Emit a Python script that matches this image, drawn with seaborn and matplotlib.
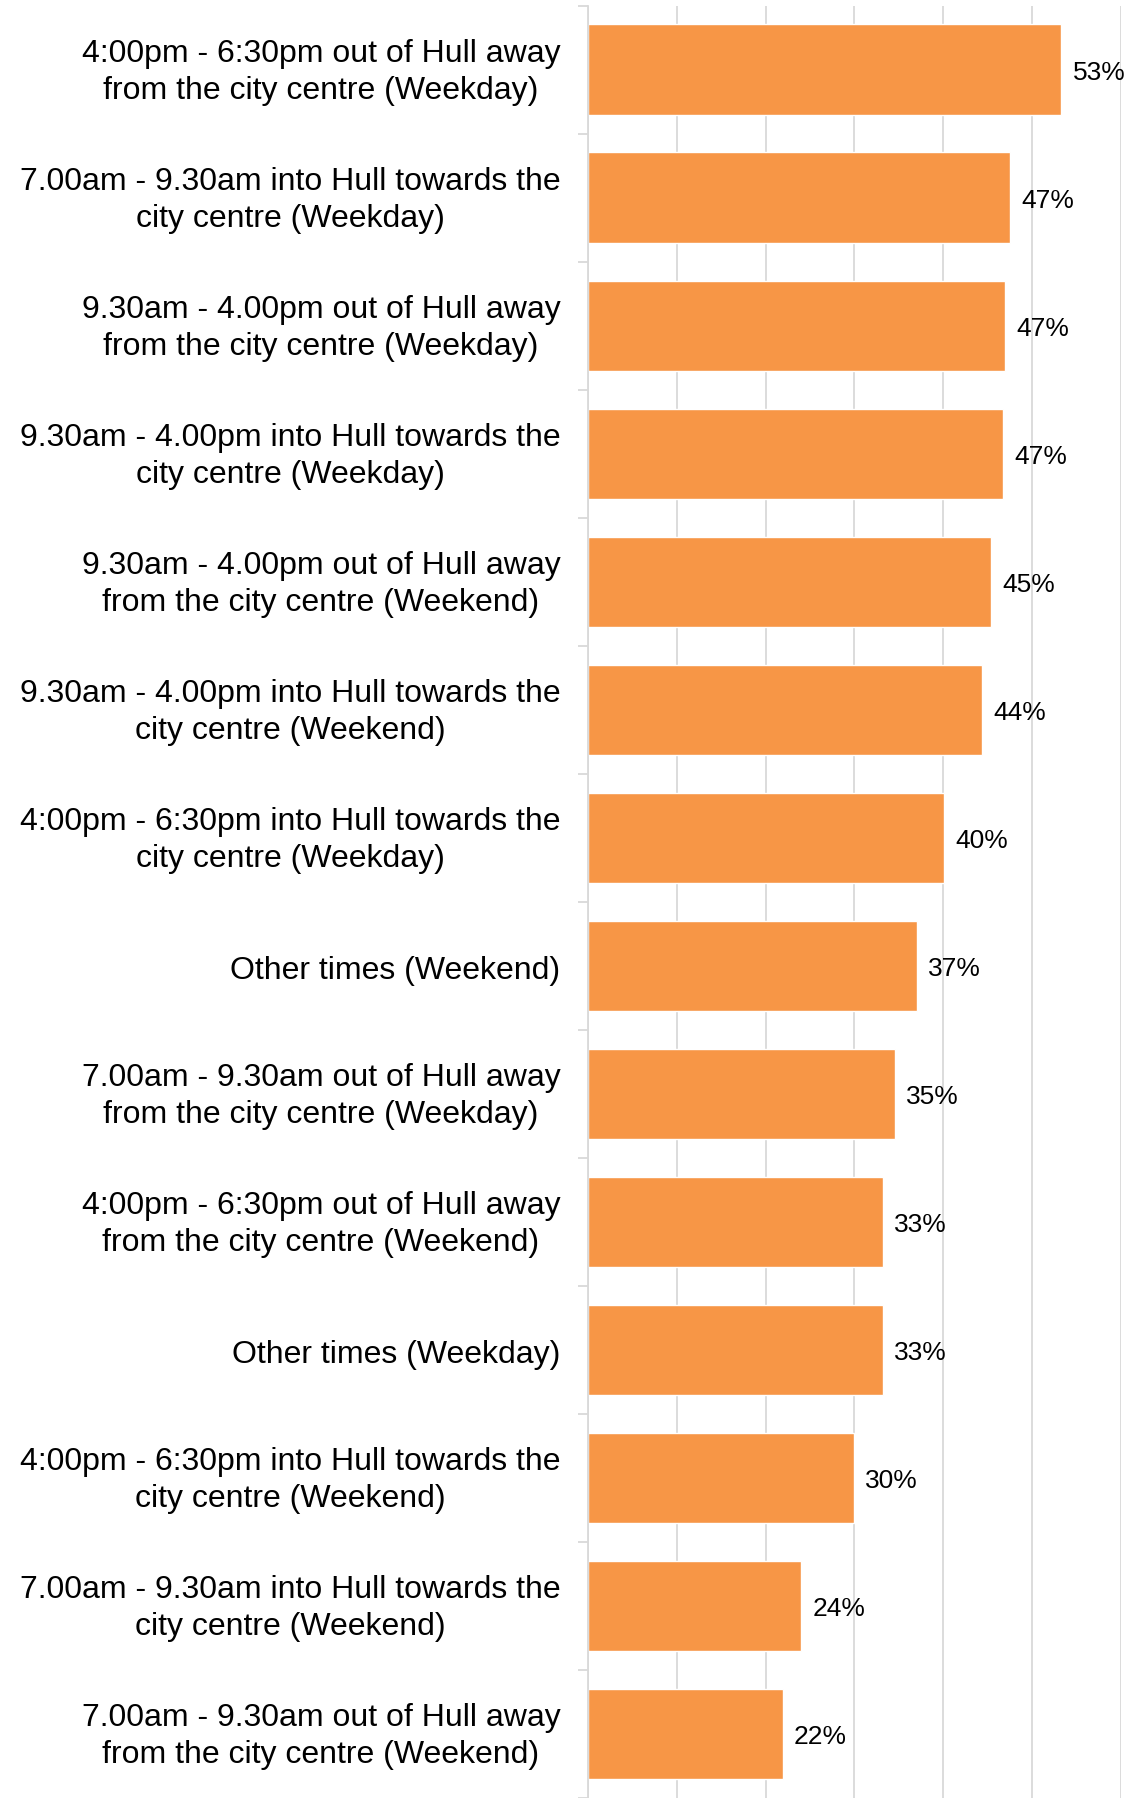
import matplotlib.pyplot as plt
import matplotlib.transforms as mtransforms
import pandas as pd
import seaborn as sns
import numpy as np
from matplotlib.ticker import FixedLocator

# data (share of respondents, %)
categories = [
    '4:00pm - 6:30pm out of Hull away\nfrom the city centre (Weekday)',
    '7.00am - 9.30am into Hull towards the\ncity centre (Weekday)',
    '9.30am - 4.00pm out of Hull away\nfrom the city centre (Weekday)',
    '9.30am - 4.00pm into Hull towards the\ncity centre (Weekday)',
    '9.30am - 4.00pm out of Hull away\nfrom the city centre (Weekend)',
    '9.30am - 4.00pm into Hull towards the\ncity centre (Weekend)',
    '4:00pm - 6:30pm into Hull towards the\ncity centre (Weekday)',
    'Other times (Weekend)',
    '7.00am - 9.30am out of Hull away\nfrom the city centre (Weekday)',
    '4:00pm - 6:30pm out of Hull away\nfrom the city centre (Weekend)',
    'Other times (Weekday)',
    '4:00pm - 6:30pm into Hull towards the\ncity centre (Weekend)',
    '7.00am - 9.30am into Hull towards the\ncity centre (Weekend)',
    '7.00am - 9.30am out of Hull away\nfrom the city centre (Weekend)',
]
values = [53.3, 47.5, 47.0, 46.7, 45.4, 44.4, 40.1, 37.0, 34.6, 33.2, 33.2, 29.9, 24.0, 21.9]
labels = ['53%', '47%', '47%', '47%', '45%', '44%', '40%', '37%', '35%', '33%', '33%', '30%', '24%', '22%']

df = pd.DataFrame({'category': categories, 'value': values})

sns.set_style('white')
plt.rcParams['font.family'] = ['Liberation Sans', 'DejaVu Sans']

fig = plt.figure(figsize=(11.25, 17.98), dpi=100)
ax = fig.add_axes([0.5227, 0.0, 0.4737, 0.9967])

sns.barplot(data=df, x='value', y='category', orient='h', color='#F79646',
            saturation=1, width=0.71, ax=ax)

ax.set_xlim(0, 60)
ax.set_ylim(len(categories) - 0.5, -0.5)
ax.set_xticks(np.arange(0, 61, 10))
ax.set_xticklabels([])
ax.tick_params(axis='x', length=0)
ax.grid(axis='x', color='#D9D9D9', linewidth=1.3)
ax.grid(axis='y', visible=False)
ax.set_axisbelow(True)

# category labels, with small tick marks between categories
ax.tick_params(axis='y', which='major', length=0, pad=20, labelsize=23, labelcolor='black')
ax.yaxis.set_minor_locator(FixedLocator(np.arange(-0.5, len(categories), 1)))
ax.tick_params(axis='y', which='minor', length=7, width=1.3, color='#D9D9D9', left=True)
for t in ax.get_yticklabels():
    t.set_multialignment('center')
    t.set_linespacing(1.3)
    # nudge so the text block sits centred on its bar
    dy = 4 if '\n' in t.get_text() else -2
    t.set_transform(t.get_transform() + mtransforms.ScaledTranslation(0, dy / 100, fig.dpi_scale_trans))

ax.set_xlabel('')
ax.set_ylabel('')
for side in ['top', 'right', 'bottom']:
    ax.spines[side].set_visible(False)
ax.spines['left'].set_color('#D9D9D9')
ax.spines['left'].set_linewidth(1.3)

for i, (v, lab) in enumerate(zip(values, labels)):
    ax.annotate(lab, (v, i), xytext=(8, -2), textcoords='offset points',
                va='center', ha='left', fontsize=19, color='black',
                annotation_clip=False)

fig.savefig('out.png', dpi=100)
